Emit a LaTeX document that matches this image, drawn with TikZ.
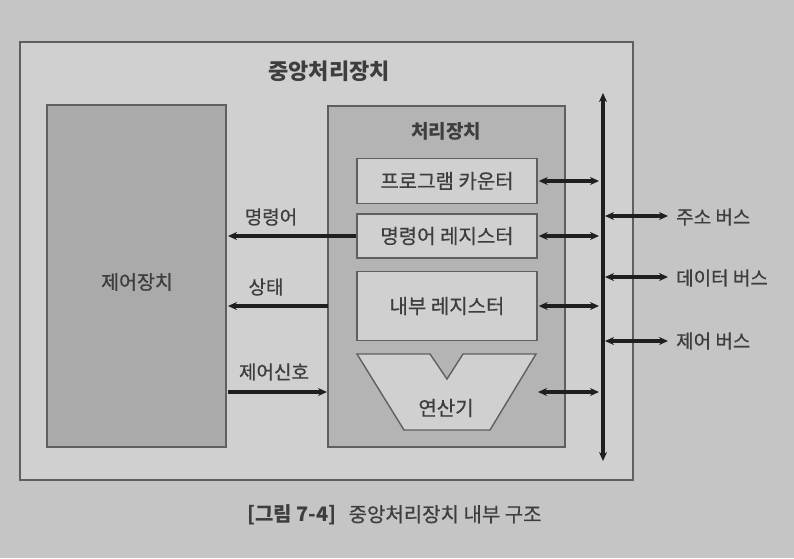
\documentclass[tikz,border=0pt]{standalone}
\usepackage{fontspec}
\setmainfont{Noto Sans CJK KR}
\newfontfamily\medfont{Noto Sans CJK KR}[FakeBold=0.6]
\usetikzlibrary{arrows.meta}
\definecolor{bgout}{RGB}{197,197,197}
\definecolor{bgin}{RGB}{208,208,208}
\definecolor{cufill}{RGB}{170,170,170}
\definecolor{pufill}{RGB}{180,180,180}
\definecolor{boxfill}{RGB}{208,208,208}
\definecolor{edge}{RGB}{95,95,95}
\definecolor{txt}{RGB}{62,62,62}
\tikzset{
  unitbox/.style={draw=edge, line width=1.6pt},
  regbox/.style={draw=edge, line width=1.4pt, fill=boxfill},
  lbl/.style={text=txt, font=\medfont\fontsize{19}{22}\selectfont, inner sep=0pt},
  boxlbl/.style={text=txt, font=\medfont\fontsize{20}{22}\selectfont, inner sep=0pt},
  blbl/.style={text=txt, font=\fontsize{19}{22}\selectfont\bfseries, inner sep=0pt},
  tip/.style={line width=3.2pt, color=black!88},
  arr/.style={tip, -{Stealth[length=9pt,width=8pt]}},
  darr/.style={tip, {Stealth[length=9pt,width=8pt]}-{Stealth[length=9pt,width=8pt]}},
}
\begin{document}
\begin{tikzpicture}[x=1pt,y=-1pt]
\useasboundingbox (0,0) rectangle (794,558);
\fill[bgout] (0,0) rectangle (794,558);
% outer CPU box
\draw[fill=bgin, draw=edge, line width=2.2pt] (20,42) rectangle (633,480);
\node[blbl, font=\fontsize{22}{26}\selectfont\bfseries] (title) at (329,71) {중앙처리장치};
% control unit
\draw[unitbox, fill=cufill] (47,105) rectangle (226,447);
\node[lbl, font=\medfont\fontsize{19.5}{22}\selectfont] (cu) at (137,282) {제어장치};
\coordinate (cuR1) at (228,236);
\coordinate (cuR2) at (228,306);
\coordinate (cuR3) at (228,392);
% processing unit
\draw[unitbox, fill=pufill] (328,106) rectangle (565,447);
\node[blbl] (pu) at (446,131) {처리장치};
\node[regbox, minimum width=180pt, minimum height=45pt, inner sep=0pt] (pc) at (447,181) {};
\node[boxlbl] at (pc) {프로그램 카운터};
\node[regbox, minimum width=180pt, minimum height=44pt, inner sep=0pt] (ir) at (447,236) {};
\node[boxlbl] at (ir) {명령어 레지스터};
\node[regbox, minimum width=180pt, minimum height=69pt, inner sep=0pt] (reg) at (447,306) {};
\node[boxlbl] at (reg) {내부 레지스터};
% ALU
\draw[regbox] (357,354) -- (430,354) -- (447,379) -- (463,354) -- (536,354) -- (490,430) -- (404,430) -- cycle;
\node[boxlbl] (alu) at (446,408) {연산기};
\coordinate (aluR) at (538,392);
\coordinate (puL2) at (328,306);
\coordinate (puL3) at (327,392);
% bus
\coordinate (busT) at (603,93);
\coordinate (busB) at (603,461);
\draw[darr] (busT) -- (busB);
\coordinate (b1) at (599,181);
\coordinate (b2) at (599,236);
\coordinate (b3) at (599,306);
\coordinate (b4) at (599,392);
\draw[darr] (pc.east) ++(1,0) -- (b1);
\draw[darr] (ir.east) ++(1,0) -- (b2);
\draw[darr] (reg.east) ++(1,0) -- (b3);
\draw[darr] (aluR) -- (b4);
% left arrows
\draw[arr] (ir.west) -- (cuR1);
\node[lbl] (l1) at (271,217) {명령어};
\draw[arr] (puL2) -- (cuR2);
\node[lbl] (l2) at (266,287) {상태};
\draw[arr] (cuR3) -- (puL3);
\node[lbl] (l3) at (274,372) {제어신호};
% external buses
\coordinate (e1a) at (605,216);
\coordinate (e1b) at (668,216);
\coordinate (e2a) at (605,277);
\coordinate (e2b) at (668,277);
\coordinate (e3a) at (605,341);
\coordinate (e3b) at (668,341);
\draw[darr] (e1a) -- (e1b);
\draw[darr] (e2a) -- (e2b);
\draw[darr] (e3a) -- (e3b);
\node[lbl, anchor=west] (n1) at (676,217) {주소 버스};
\node[lbl, anchor=west] (n2) at (676,278) {데이터 버스};
\node[lbl, anchor=west] (n3) at (676,341) {제어 버스};
% caption
\node[lbl, font=\medfont\fontsize{20}{22}\selectfont, anchor=west] (cap) at (247,515) {{\fontspec{Noto Sans CJK KR}\bfseries [그림 7-4]}\hspace{12pt}중앙처리장치 내부 구조};
\end{tikzpicture}
\end{document}
